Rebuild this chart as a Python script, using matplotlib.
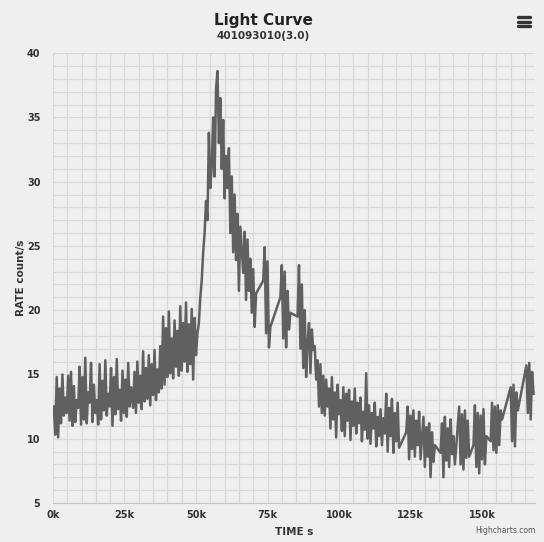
import numpy as np
import matplotlib
matplotlib.use("Agg")
import matplotlib.pyplot as plt
from matplotlib.ticker import MultipleLocator, FuncFormatter
from matplotlib.lines import Line2D

# light curve, binned at 0.5 ks; each orbit = (start time in ks, rates in count/s)
BIN_KS = 0.5

orbit1 = (0.3, [12.5, 10.3, 14.8, 10.1, 13.9, 11.2, 15.0, 11.8, 13.2, 12.0, 14.9, 11.4,
                15.2, 11.0, 14.1, 11.3, 13.0, 12.4, 15.6, 11.1, 14.8, 11.5, 16.3, 11.2,
                13.6, 12.8, 15.9, 11.3, 14.2, 12.0, 13.0, 11.1, 15.8, 11.5, 14.5, 12.2,
                16.1, 11.8, 13.5, 12.5, 15.5, 11.0, 14.8, 11.9, 16.2, 12.3, 13.8, 11.4,
                15.3, 12.0, 14.6, 11.7, 15.9, 12.5, 14.0])
orbit2 = (28.0, [12.4, 15.2, 12.0, 16.0, 12.8, 14.9, 12.3, 16.8, 12.9, 15.5, 13.1, 16.5,
                 12.6, 15.8, 13.4, 16.9, 13.0, 15.4, 13.6, 17.2, 13.9, 19.5, 14.2, 18.6,
                 14.8, 19.9, 15.1, 17.8, 14.7, 19.2, 15.6, 18.4, 14.9, 20.3, 15.3, 19.0,
                 16.0, 20.6, 15.2, 18.9, 15.8, 20.1, 14.6, 19.4])
orbit3 = (50.0, [16.5, 18.2, 19.0, 21.0, 22.3, 24.5, 26.0, 28.5, 27.0, 33.8, 29.5, 31.2,
                 35.0, 30.4, 37.2, 38.6, 33.0, 36.5, 31.0, 34.8, 28.7, 32.0, 29.5, 32.6,
                 26.0, 30.4, 24.5, 29.0, 23.9, 27.5, 21.5, 26.5])
orbit4 = (66.5, [22.9, 26.1, 20.8, 25.5, 21.5, 24.0, 19.8, 23.2, 18.7, 21.3])
orbit5 = (73.5, [22.3, 24.9, 18.2, 23.8, 17.1, 18.7])
orbit6 = (79.5, [21.0, 23.5, 17.8, 23.0, 17.1, 21.5, 18.5, 19.8])
orbit7 = (85.5, [19.5, 23.5, 17.0, 22.0, 15.5, 20.0, 14.8, 17.5])
orbit8 = (89.5, [19.0, 15.1, 18.5, 16.9, 17.2, 14.6, 16.1, 12.5, 15.8, 12.0, 14.9, 11.8,
                 14.6, 12.5, 13.9, 10.8, 14.8, 11.5, 13.6, 10.1, 14.2, 11.9, 13.0, 10.6,
                 14.0, 10.2, 13.5, 11.4, 13.8, 9.9, 12.9, 11.0])
orbit9 = (105.5, [13.9, 10.4, 12.8, 11.2, 13.2, 9.8, 12.1, 10.7, 15.1, 10.0, 12.6, 9.6,
                  12.0, 10.8, 12.8, 9.4, 11.7, 10.2, 12.3, 9.5, 11.6, 10.4, 13.5, 9.0,
                  12.4, 10.2, 13.1, 8.9, 12.0, 9.8, 12.8, 9.3])
orbit10 = (123.5, [10.5, 12.5, 8.4, 11.8, 9.2, 12.2, 8.6, 11.4, 9.5, 12.1, 8.4])
orbit11 = (129.5, [11.7, 7.8, 10.9, 8.6, 11.2, 7.0, 10.5, 8.2, 9.5])
orbit12 = (135.5, [8.9, 11.2, 7.0, 11.7, 8.3, 10.8, 7.8, 11.5, 8.8, 10.2, 8.0])
orbit13 = (141.5, [11.0, 12.5, 8.0, 11.9, 7.6, 12.2, 8.5, 11.4, 8.6])
orbit14 = (147.0, [9.5, 12.6, 7.8, 12.0, 7.3, 11.8, 8.4, 12.3, 8.0, 10.2])
orbit15 = (153.0, [9.8, 12.8, 9.1, 12.5, 8.9, 12.6, 9.5, 12.2, 11.5])
orbit16 = (160.0, [14.0, 9.8, 14.2, 9.4, 13.6, 12.2])
orbit17 = (165.5, [15.7, 12.0, 15.9, 11.5, 15.2, 13.5])

orbits = [orbit1, orbit2, orbit3, orbit4, orbit5, orbit6, orbit7, orbit8, orbit9,
          orbit10, orbit11, orbit12, orbit13, orbit14, orbit15, orbit16, orbit17]

time_ks = np.concatenate([t0 + BIN_KS * np.arange(len(r)) for t0, r in orbits])
rate = np.concatenate([r for _, r in orbits])

BG = "#efefef"
GRID = "#d9d9d9"
TXT = "#333333"

fig = plt.figure(figsize=(5.44, 5.42), dpi=100)
fig.patch.set_facecolor(BG)

ax = fig.add_axes([0.0974, 0.072, 0.886, 0.830])
ax.set_facecolor(BG)

ax.plot(time_ks, rate, color="#606060", lw=1.8, solid_joinstyle="round")

ax.set_xlim(0, 168.5)
ax.set_ylim(5, 40)
ax.xaxis.set_major_locator(MultipleLocator(25))
ax.xaxis.set_minor_locator(MultipleLocator(5))
ax.yaxis.set_major_locator(MultipleLocator(5))
ax.yaxis.set_minor_locator(MultipleLocator(1))
ax.xaxis.set_major_formatter(FuncFormatter(lambda v, p: f"{int(v)}k"))
ax.grid(True, which="both", color=GRID, lw=0.9)
ax.set_axisbelow(True)

for s in ["top", "right", "left"]:
    ax.spines[s].set_visible(False)
ax.spines["bottom"].set_color("#c4c4c4")

ax.tick_params(which="both", length=0)
ax.tick_params(axis="x", pad=5)
ax.tick_params(axis="y", pad=9)
for lab in ax.get_xticklabels() + ax.get_yticklabels():
    lab.set_fontsize(7)
    lab.set_fontweight("bold")
    lab.set_color(TXT)

ax.set_xlabel("TIME s", fontsize=7.5, fontweight="bold", color=TXT, labelpad=5)
ax.set_ylabel("RATE count/s", fontsize=7.5, fontweight="bold", color=TXT, labelpad=1)

fig.text(0.484, 0.962, "Light Curve", ha="center", va="center",
         fontsize=11, fontweight="bold", color="#222222")
fig.text(0.484, 0.933, "401093010(3.0)", ha="center", va="center",
         fontsize=7.5, fontweight="bold", color=TXT)
fig.text(0.985, 0.012, "Highcharts.com", ha="right", va="bottom",
         fontsize=5.5, color="#555555")

# export menu icon
for yy in [0.968, 0.960, 0.952]:
    fig.add_artist(Line2D([0.952, 0.974], [yy, yy], color="#333333", lw=2.4,
                          solid_capstyle="round", transform=fig.transFigure))

fig.savefig("out.png", dpi=100, facecolor=BG)
